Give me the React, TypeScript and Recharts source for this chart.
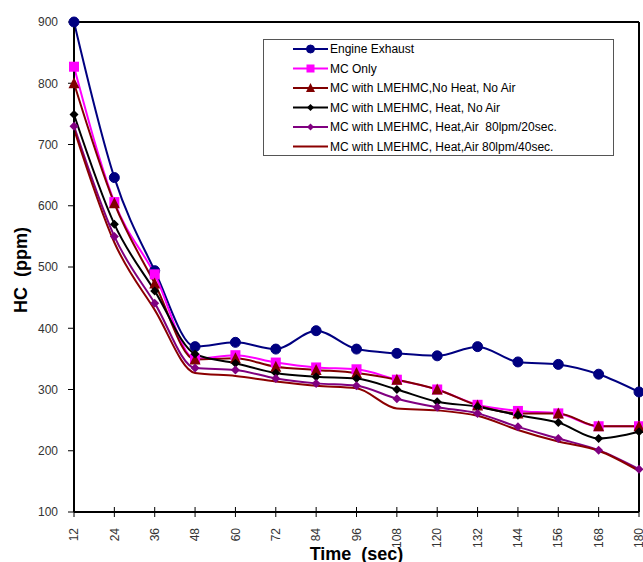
import React from 'react';
import { LineChart, Line, XAxis, YAxis, Legend, ReferenceLine } from 'recharts';

const times = [12, 24, 36, 48, 60, 72, 84, 96, 108, 120, 132, 144, 156, 168, 180];
const engineExhaust = [900, 646, 494, 370, 377, 366, 396, 366, 359, 355, 370, 345, 341, 325, 296];
const mcOnly = [827, 606, 488, 350, 356, 344, 336, 333, 316, 300, 275, 265, 261, 240, 240];
const noHeatNoAir = [800, 604, 473, 349, 351, 337, 332, 327, 316, 300, 274, 261, 261, 240, 240];
const heatNoAir = [749, 570, 461, 358, 343, 327, 321, 318, 300, 280, 272, 258, 246, 220, 231];
const heatAir20 = [730, 550, 441, 335, 332, 318, 310, 306, 285, 271, 261, 239, 220, 201, 170];
const heatAir40 = [725, 540, 430, 327, 322, 313, 306, 302, 269, 266, 257, 234, 215, 200, 167];
const yTicks = [100, 200, 300, 400, 500, 600, 700, 800, 900];

const seriesNames = [
  'Engine Exhaust',
  'MC Only',
  'MC with LMEHMC,No Heat, No Air',
  'MC with LMEHMC, Heat, No Air',
  'MC with LMEHMC, Heat,Air  80lpm/20sec.',
  'MC with LMEHMC, Heat,Air 80lpm/40sec.',
];
const seriesKeys = ['s0', 's1', 's2', 's3', 's4', 's5'];
const seriesColors = ['#000080', '#FF00FF', '#800000', '#000000', '#800080', '#8B0000'];
const seriesShapes = ['circle', 'square', 'triangle', 'diamond', 'diamond', 'none'];
const seriesValues = [engineExhaust, mcOnly, noHeatNoAir, heatNoAir, heatAir20, heatAir40];

const data = times.map((t, i) => {
  const row: any = { t };
  seriesKeys.forEach((k, j) => {
    row[k] = seriesValues[j][i];
  });
  return row;
});

function Marker({ cx, cy, shape, color, size }: any) {
  if (cx == null || cy == null) return null;
  const s = size;
  if (shape === 'circle') return <circle cx={cx} cy={cy} r={s / 2} fill={color} stroke={color} />;
  if (shape === 'square')
    return <rect x={cx - s / 2} y={cy - s / 2} width={s} height={s} fill={color} />;
  if (shape === 'triangle')
    return (
      <polygon
        points={`${cx},${cy - s / 2 - 1} ${cx + s / 2 + 0.5},${cy + s / 2} ${cx - s / 2 - 0.5},${cy + s / 2}`}
        fill={color}
      />
    );
  if (shape === 'diamond')
    return (
      <polygon
        points={`${cx},${cy - s / 2} ${cx + s / 2},${cy} ${cx},${cy + s / 2} ${cx - s / 2},${cy}`}
        fill={color}
      />
    );
  return null;
}

const markerSizes = [10, 10, 10, 9, 9, 0];

function XTick(props: any) {
  const { x, y, payload } = props;
  return (
    <g>
      <line x1={x} y1={y - 5} x2={x} y2={y + 5} stroke="#000" strokeWidth={1} />
      <text
        transform={`translate(${x},${y + 16}) rotate(-90)`}
        textAnchor="end"
        dy="0.35em"
        fontSize={12}
        fill="#333"
        fontFamily="Liberation Sans, Arial, sans-serif"
      >
        {payload.value}
      </text>
    </g>
  );
}

function LegendBox() {
  return (
    <div
      style={{
        width: 351,
        height: 117,
        border: '1px solid #555',
        background: '#fff',
        boxSizing: 'border-box',
        position: 'relative',
      }}
    >
      <svg width={351} height={117} style={{ position: 'absolute', left: -1, top: -1 }}>
        {seriesNames.map((name, i) => {
          const cy = 10 + i * 19.5;
          return (
            <g key={name}>
              <line x1={30} y1={cy} x2={65} y2={cy} stroke={seriesColors[i]} strokeWidth={2} />
              <Marker cx={47.5} cy={cy} shape={seriesShapes[i]} color={seriesColors[i]} size={i < 3 ? 8 : 7} />
              <text
                x={67}
                y={cy}
                dy="0.35em"
                fontSize={12}
                fill="#000"
                fontFamily="Liberation Sans, Arial, sans-serif"
                style={{ whiteSpace: 'pre' }}
              >
                {name}
              </text>
            </g>
          );
        })}
      </svg>
    </div>
  );
}

export default function App() {
  return (
    <div style={{ position: 'absolute', left: 0, top: 0, width: 643, height: 562, background: '#fff' }}>
      <LineChart
        width={643}
        height={562}
        data={data}
        margin={{ top: 22, right: 4, left: 0, bottom: 0 }}
        style={{ fontFamily: 'Liberation Sans, Arial, sans-serif' }}
      >
        <XAxis
          dataKey="t"
          type="number"
          domain={[12, 180]}
          ticks={times}
          interval={0}
          height={50}
          tickLine={false}
          tickSize={0}
          tickMargin={0}
          tick={<XTick />}
          axisLine={{ stroke: '#000', strokeWidth: 2 }}
          label={(p: any) => {
            const vb = p.viewBox;
            return (
              <text
                x={vb.x + vb.width / 2}
                y={560}
                textAnchor="middle"
                fontSize={18}
                fontWeight="bold"
                fill="#000"
                fontFamily="Liberation Sans, Arial, sans-serif"
                style={{ whiteSpace: 'pre' }}
              >
                {'Time  (sec)'}
              </text>
            );
          }}
        />
        <YAxis
          type="number"
          domain={[100, 900]}
          ticks={yTicks}
          interval={0}
          width={74}
          tickSize={6}
          tickMargin={10}
          tickLine={{ stroke: '#000' }}
          axisLine={{ stroke: '#000', strokeWidth: 2 }}
          tick={{ fontSize: 12, fill: '#333', fontFamily: 'Liberation Sans, Arial, sans-serif' }}
          label={(p: any) => {
            const vb = p.viewBox;
            const cy = vb.y + vb.height / 2 + 3;
            return (
              <text
                transform={`translate(27,${cy}) rotate(-90)`}
                textAnchor="middle"
                fontSize={18}
                fontWeight="bold"
                fill="#000"
                fontFamily="Liberation Sans, Arial, sans-serif"
                style={{ whiteSpace: 'pre' }}
              >
                {'HC  (ppm)'}
              </text>
            );
          }}
        />
        <ReferenceLine y={900} stroke="#000" strokeWidth={2} ifOverflow="visible" />
        <ReferenceLine x={180} stroke="#000" strokeWidth={2} ifOverflow="visible" />
        <Legend
          layout="vertical"
          align="center"
          verticalAlign="middle"
          content={() => <LegendBox />}
          wrapperStyle={{ position: 'absolute', left: 263, top: 39, width: 351, height: 117 }}
        />
        {seriesKeys.map((k, i) => (
          <Line
            key={k}
            dataKey={k}
            name={seriesNames[i]}
            type="monotone"
            stroke={seriesColors[i]}
            strokeWidth={2}
            isAnimationActive={false}
            dot={(p: any) => (
              <Marker
                key={`${k}-${p.index}`}
                cx={p.cx}
                cy={p.cy}
                shape={seriesShapes[i]}
                color={seriesColors[i]}
                size={markerSizes[i]}
              />
            )}
            activeDot={false}
          />
        ))}
      </LineChart>
    </div>
  );
}
